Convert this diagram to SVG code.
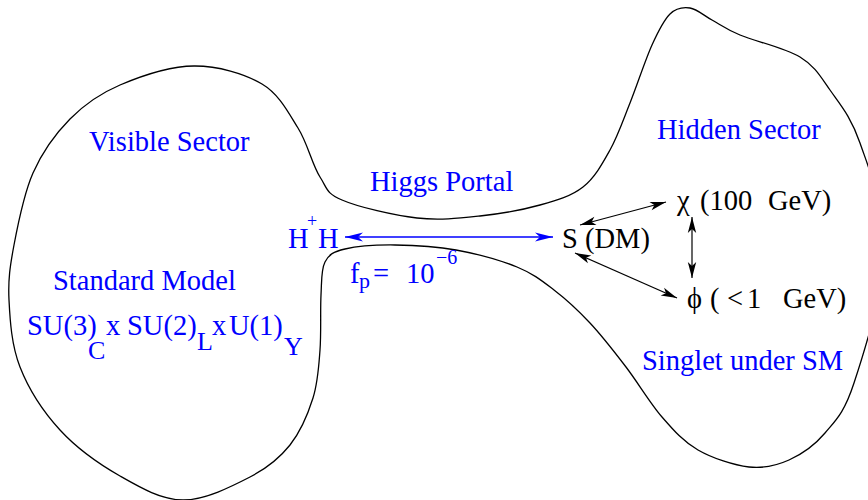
<svg xmlns="http://www.w3.org/2000/svg" width="868" height="500" viewBox="0 0 868 500">
<style>
  .outline { fill: none; stroke: #000; stroke-width: 1.3; }
  .blue { fill: #0000ff; font-size: 28.5px; }
  .black { fill: #000; font-size: 28.5px; }
  .sub { font-size: 26px; }
  .bconn { stroke: #0000ff; stroke-width: 1.5; fill: none; marker-start: url(#ahb); marker-end: url(#ahb); }
  .kconn { stroke: #000; stroke-width: 1.2; fill: none; marker-start: url(#ahk); marker-end: url(#ahk); }
</style>
<defs>
  <marker id="ahb" markerUnits="userSpaceOnUse" markerWidth="20" markerHeight="12" refX="0" refY="0" viewBox="-19 -6 20 12" orient="auto-start-reverse" overflow="visible">
    <path d="M0,0 L-18,-4.5 L-13,0 L-18,4.5 Z" fill="#0000ff"/>
  </marker>
  <marker id="ahk" markerUnits="userSpaceOnUse" markerWidth="20" markerHeight="12" refX="0" refY="0" viewBox="-19 -6 20 12" orient="auto-start-reverse" overflow="visible">
    <path d="M0,0 L-16,-4.2 L-12,0 L-16,4.2 Z" fill="#000"/>
  </marker>
</defs>
<rect width="868" height="500" fill="#fff"/>

<g id="sectors">
<path class="outline" d="M194,66 C217.7,65.8 244.7,73.7 262,84 C279.3,94.3 288.3,112.5 298,128 C307.7,143.5 312.2,164.8 320,177 C327.8,189.2 326,193.2 342,200 C358,207 394.5,215.5 417,218 C439.5,220.5 459.5,218.2 480,216 C500.5,213.8 522.8,209.8 540,205 C557.2,200.2 571.3,196.2 583,187 C594.7,177.8 602.2,164 610,150 C617.8,136 623,120.5 630,103 C637,85.5 645.3,59.8 652,45 C658.7,30.2 663.7,20.2 670,14 C676.3,7.8 683,7 690,8 C697,9 703.7,15.5 712,20 C720.3,24.5 725.3,28.8 740,35 C754.7,41.2 785,47.8 800,57 C815,66.2 820,75.7 830,90 C840,104.3 850.8,116.3 860,143 C869.2,169.7 886,210 885,250 C884,290 864,352.5 854,383 C844,413.5 835.8,420.2 825,433 C814.2,445.8 801.7,454.3 789,460 C776.3,465.7 764.2,468.7 749,467 C733.8,465.3 712.5,458.3 698,450 C683.5,441.7 674,430.8 662,417 C650,403.2 638,382.7 626,367 C614,351.3 602,335.8 590,323 C578,310.2 566.2,299.3 554,290 C541.8,280.7 533.3,273.7 517,267 C500.7,260.3 476.3,253.7 456,250 C435.7,246.3 413.5,245.2 395,245 C376.5,244.8 356.7,246.2 345,249 C333.3,251.8 329,254.3 325,262 C321,269.7 321.8,280.3 321,295 C320.2,309.7 321.3,332.8 320,350 C318.7,367.2 318,382.2 313,398 C308,413.8 300.5,431.8 290,445 C279.5,458.2 267.8,467.8 250,477 C232.2,486.2 204.7,500.2 183,500 C161.3,499.8 140.5,487.7 120,476 C99.5,464.3 76.7,448.2 60,430 C43.3,411.8 28.5,388.7 20,367 C11.5,345.3 10,320.3 9,300 C8,279.7 10,266.2 14,245 C18,223.8 23.7,194 33,173 C42.3,152 55.5,133.7 70,119 C84.5,104.3 99.3,93.8 120,85 C140.7,76.2 170.3,66.2 194,66 Z"/>
</g>

<g font-family="Liberation Serif, Times New Roman, serif">
<g id="labels">
  <text class="blue" x="89" y="151">Visible Sector</text>
  <text class="blue" x="370" y="191">Higgs Portal</text>
  <text class="blue" x="657" y="139">Hidden Sector</text>
  <text class="blue" x="53" y="290">Standard Model</text>
  <text class="blue" x="642" y="370">Singlet under SM</text>
</g>

<g id="gauge-group">
  <text class="blue" x="27" y="335">SU(3)</text>
  <text class="blue sub" x="88" y="359">C</text>
  <text class="blue" x="106" y="335">x</text>
  <text class="blue" x="127" y="335">SU(2)</text>
  <text class="blue sub" x="197" y="350">L</text>
  <text class="blue" x="212" y="335">x</text>
  <text class="blue" x="229" y="335">U(1)</text>
  <text class="blue sub" x="284" y="355">Y</text>
</g>

<g id="node-HH">
  <text class="blue" x="288" y="248">H</text>
  <text class="blue" x="307" y="227" style="font-size:18px">+</text>
  <text class="blue" x="318" y="248">H</text>
</g>

<g id="coupling">
  <text class="blue" x="350" y="283">f</text>
  <text class="blue" x="359" y="288" style="font-size:22px">p</text>
  <text class="blue" x="373" y="283">=</text>
  <text class="blue" x="406" y="283">10</text>
  <text class="blue" x="436" y="264" style="font-size:20px">−6</text>
</g>

<g id="node-S">
  <text class="black" x="562" y="248">S (DM)</text>
</g>

<g id="node-chi">
  <text class="black" x="677" y="210">χ</text>
  <text class="black" x="700" y="210">(100</text>
  <text class="black" x="768" y="210">GeV)</text>
</g>

<g id="node-phi">
  <text class="black" x="687" y="308">ϕ</text>
  <text class="black" x="710" y="308">(</text>
  <text class="black" x="727" y="308">&lt;</text>
  <text class="black" x="747" y="308">1</text>
  <text class="black" x="783" y="308">GeV)</text>
</g>
</g>

<g id="connectors">
  <line class="bconn" x1="345" y1="237" x2="553" y2="237"/>
  <line class="kconn" x1="580" y1="225" x2="666" y2="202"/>
  <line class="kconn" x1="575" y1="253" x2="677" y2="298"/>
  <line class="kconn" x1="692" y1="217" x2="692" y2="278"/>
</g>
</svg>
